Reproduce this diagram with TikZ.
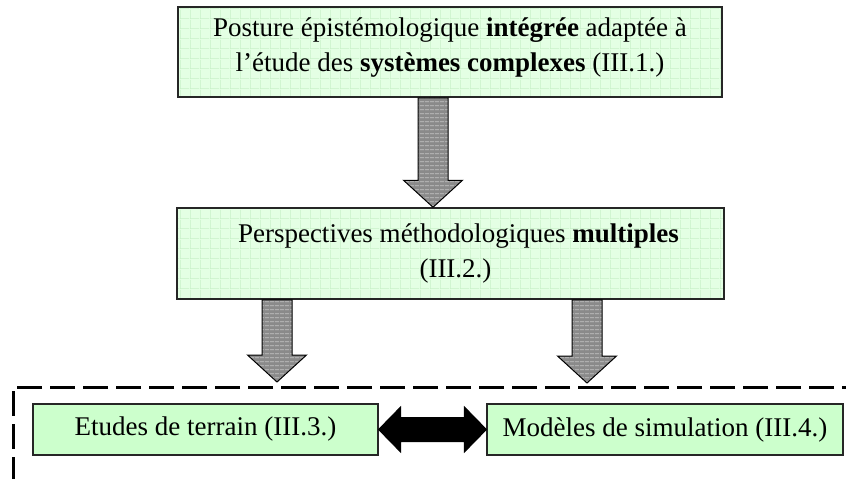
\documentclass[tikz,border=0pt]{standalone}
\usepackage{fontspec}
\setmainfont{Liberation Serif}
\usetikzlibrary{patterns,calc}

% light grid texture for the two upper boxes
\pgfdeclarepatternformonly{softgrid}{\pgfpointorigin}{\pgfpoint{10pt}{10pt}}{\pgfpoint{10pt}{10pt}}{%
  \pgfsetlinewidth{0.8pt}%
  \pgfpathmoveto{\pgfpoint{0pt}{0.4pt}}\pgfpathlineto{\pgfpoint{10pt}{0.4pt}}%
  \pgfpathmoveto{\pgfpoint{0.4pt}{0pt}}\pgfpathlineto{\pgfpoint{0.4pt}{10pt}}%
  \pgfusepath{stroke}}
% horizontal streaks for the block arrows
\pgfdeclarepatternformonly{streaks}{\pgfpointorigin}{\pgfpoint{5pt}{4pt}}{\pgfpoint{5pt}{4pt}}{%
  \pgfsetlinewidth{1pt}%
  \pgfpathmoveto{\pgfpoint{0pt}{1.5pt}}\pgfpathlineto{\pgfpoint{5pt}{1.5pt}}%
  \pgfusepath{stroke}}

\definecolor{palegreen}{HTML}{E4FFE4}
\definecolor{gridgreen}{HTML}{C8F0C8}
\definecolor{boxgreen}{HTML}{CCFFCC}
\definecolor{arrowgray}{HTML}{8A8A8A}
\definecolor{streakgray}{HTML}{C4C4C4}

\tikzset{
  bigbox/.style={draw=black!85, line width=1.5pt,
    preaction={fill=palegreen},
    preaction={pattern=softgrid, pattern color=gridgreen},
    align=center, inner sep=0pt, font=\fontsize{27}{35}\selectfont},
  smallbox/.style={draw=black!85, line width=1.2pt, fill=boxgreen,
    align=center, inner sep=0pt, font=\fontsize{27}{35}\selectfont},
  blockarrow/.style={draw=black, line width=1pt,
    preaction={fill=arrowgray},
    preaction={pattern=streaks, pattern color=streakgray}},
  dblarrow/.style={draw=black, line width=1pt, fill=black},
  frameline/.style={draw=black, line width=3pt, dash pattern=on 25pt off 8pt}
}

% downward block arrow: from the y of #1 to the tip y of #2, centred on the x of #3
\newcommand{\blockdown}[3]{%
  \draw[blockarrow] let \p1=(#1), \p2=(#2), \p3=(#3) in
    (\x3-15pt,\y1) -- (\x3+15pt,\y1) -- (\x3+15pt,\y2+27pt) -- (\x3+29.5pt,\y2+27pt)
    -- (\x3,\y2) -- (\x3-29.5pt,\y2+27pt) -- (\x3-15pt,\y2+27pt) -- cycle;}

\begin{document}
\begin{tikzpicture}[x=1pt,y=-1pt]
  \useasboundingbox (0,0) rectangle (846,479);
  \clip (0,0) rectangle (846,479);

  % boxes
  \node[bigbox, minimum width=544pt, minimum height=90pt, text depth=14pt] (posture) at (450,52)
    {Posture épistémologique \textbf{intégrée} adaptée à\\l’étude des \textbf{systèmes complexes} (III.1.)};
  \node[bigbox, minimum width=547pt, minimum height=91pt] (methodes) at (450.5,253.5)
    {\hspace*{16pt}Perspectives méthodologiques \textbf{multiples}\\\hspace*{10pt}(III.2.)};
  \node[smallbox, minimum width=345pt, minimum height=51pt] (terrain) at (205.5,429.5)
    {Etudes de terrain (III.3.)};
  \node[smallbox, minimum width=356pt, minimum height=51pt] (simul) at (665,429.5)
    {Modèles de simulation (III.4.)};

  % dashed frame around the two approaches
  \coordinate (framecorner) at (13,387);
  \draw[frameline] (900,387) -| (13,520);

  % block arrows
  \coordinate (a1x) at (433,0);
  \coordinate (tipL) at (277,382);
  \coordinate (tipR) at (587,383);
  \blockdown{posture.south}{methodes.north}{a1x}
  \blockdown{methodes.south}{tipL}{tipL}
  \blockdown{methodes.south}{tipR}{tipR}

  % two-way arrow between the approaches
  \draw[dblarrow] let \p1=(terrain.east), \p2=(simul.west) in
    (\x1,\y1) -- (\x1+22pt,\y1+22.5pt) -- (\x1+22pt,\y1+12pt) -- (\x2-22pt,\y1+12pt)
    -- (\x2-22pt,\y1+22.5pt) -- (\x2,\y1) -- (\x2-22pt,\y1-22.5pt) -- (\x2-22pt,\y1-12pt)
    -- (\x1+22pt,\y1-12pt) -- (\x1+22pt,\y1-22.5pt) -- cycle;
\end{tikzpicture}
\end{document}
